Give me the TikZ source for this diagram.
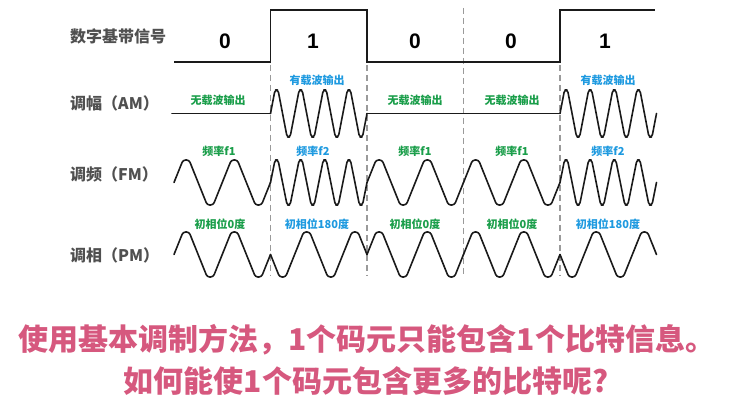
\documentclass[tikz,border=0pt]{standalone}
\usepackage{fontspec}
\newfontfamily\cjk{Noto Sans CJK SC}
\newfontfamily\digitfont{Liberation Sans}
\definecolor{lblgray}{HTML}{505050}
\definecolor{wavec}{HTML}{1A1A1A}
\definecolor{greenlbl}{HTML}{1A9E4A}
\definecolor{bluelbl}{HTML}{1E9AE0}
\definecolor{pinktxt}{HTML}{D6587E}
\definecolor{dashgray}{HTML}{9A9A9A}
\newcommand\wvseg[5]{%
  \draw[wave] (#1,#2) \foreach \k in {1,...,#4}{
    -- ({#1+(\k-1)*#5+#5/4-#5/16},{#2-(#3)})
    -- ({#1+(\k-1)*#5+#5/4+#5/16},{#2-(#3)})
    -- ({#1+(\k-1)*#5+3*#5/4-#5/16},{#2+(#3)})
    -- ({#1+(\k-1)*#5+3*#5/4+#5/16},{#2+(#3)})
  } -- ({#1+#4*#5},#2);}
\begin{document}
\begin{tikzpicture}[x=1pt,y=-1pt,
  wave/.style={draw=wavec,line width=1.6pt,rounded corners=2.5pt,line cap=round,line join=round},
  baseline/.style={draw=wavec,line width=1.6pt,line join=miter},
  bitsep/.style={draw=dashgray,line width=1.2pt,dash pattern=on 6pt off 4pt},
  rowlbl/.style={font=\cjk\bfseries\fontsize{16}{16}\selectfont,text=lblgray,anchor=west,inner sep=0pt},
  digit/.style={font=\digitfont\bfseries\fontsize{21}{21}\selectfont,text=black,inner sep=0pt},
  glbl/.style={font=\cjk\bfseries\fontsize{11}{11}\selectfont,text=greenlbl,inner sep=0pt},
  blbl/.style={font=\cjk\bfseries\fontsize{11}{11}\selectfont,text=bluelbl,inner sep=0pt},
  bigtxt/.style={font=\cjk\bfseries\fontsize{30}{30}\selectfont,text=pinktxt,inner sep=0pt}]
\useasboundingbox[fill=white] (0,0) rectangle (736,419);

% dashed bit separators
\draw[bitsep] (270.5,65) -- (270.5,276);
\draw[bitsep] (367,65) -- (367,276);
\draw[bitsep] (463.5,8) -- (463.5,276);
\draw[bitsep] (560,65) -- (560,276);

% baseband signal
\draw[baseline] (174,62) -- (270.5,62) -- (270.5,10) -- (367,10) -- (367,62) -- (560,62) -- (560,10) -- (655,10);

% row labels
\node[rowlbl] (lbase) at (70,36) {数字基带信号};
\node[rowlbl] (lam) at (70,103.5) {调幅（AM）};
\node[rowlbl] (lfm) at (70,174) {调频（FM）};
\node[rowlbl] (lpm) at (70,255) {调相（PM）};

% bits
\node[digit] (d1) at (225,41) {0};
\node[digit] (d2) at (313,41) {1};
\node[digit] (d3) at (415,41) {0};
\node[digit] (d4) at (511,41) {0};
\node[digit] (d5) at (605,41) {1};

% AM
\draw[wave] (172,113.5) -- (270.5,113.5);
\wvseg{270.5}{113.5}{23.5}{4}{24.125}
\draw[wave] (367,113.5) -- (560,113.5);
\wvseg{560}{113.5}{23.5}{4}{24.125}
\node[glbl] (am1) at (218,100) {无载波输出};
\node[blbl] (am2) at (317,80) {有载波输出};
\node[glbl] (am3) at (415,100) {无载波输出};
\node[glbl] (am4) at (512,100) {无载波输出};
\node[blbl] (am5) at (608,80) {有载波输出};

% FM
\wvseg{174}{182.5}{22.5}{2}{48.25}
\wvseg{270.5}{182.5}{22.5}{4}{24.125}
\wvseg{367}{182.5}{22.5}{2}{48.25}
\wvseg{463.5}{182.5}{22.5}{2}{48.25}
\wvseg{560}{182.5}{22.5}{4}{24.125}
\node[glbl] (fm1) at (219,151) {频率f1};
\node[blbl] (fm2) at (313,151) {频率f2};
\node[glbl] (fm3) at (415,151) {频率f1};
\node[glbl] (fm4) at (512,151) {频率f1};
\node[blbl] (fm5) at (608,151) {频率f2};

% PM
\wvseg{174}{254.5}{22.5}{2}{48.25}
\wvseg{270.5}{254.5}{-22.5}{2}{48.25}
\wvseg{367}{254.5}{22.5}{2}{48.25}
\wvseg{463.5}{254.5}{22.5}{2}{48.25}
\wvseg{560}{254.5}{-22.5}{2}{48.25}
\node[glbl] (pm1) at (220,224) {初相位0度};
\node[blbl] (pm2) at (317,224) {初相位180度};
\node[glbl] (pm3) at (415,224) {初相位0度};
\node[glbl] (pm4) at (512,224) {初相位0度};
\node[blbl] (pm5) at (608,224) {初相位180度};

% bottom text
\node[bigtxt] (t1) at (367,340) {使用基本调制方法，1个码元只能包含1个比特信息。};
\node[bigtxt] (t2) at (366,381) {如何能使1个码元包含更多的比特呢?};
\end{tikzpicture}
\end{document}
